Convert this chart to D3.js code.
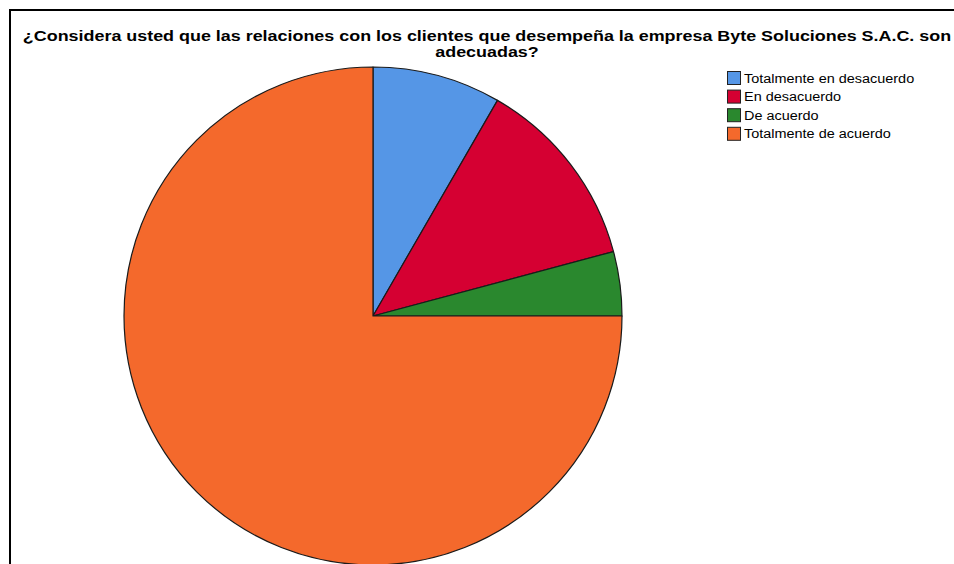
<!DOCTYPE html>
<html>
<head>
<meta charset="utf-8">
<script src="https://cdn.jsdelivr.net/npm/d3@7"></script>
<style>
  html, body { margin: 0; padding: 0; background: #fff; }
  svg { display: block; }
</style>
</head>
<body>
<svg id="chart" width="954" height="564"></svg>
<script>
// Responses to the survey question (counts per answer)
const categories = ["Totalmente en desacuerdo", "En desacuerdo", "De acuerdo", "Totalmente de acuerdo"];
const counts = [2, 3, 1, 18];
const colors = ["#5596E6", "#D50032", "#2A882E", "#F4692C"];
const titleLines = [
  "¿Considera usted que las relaciones con los clientes que desempeña la empresa Byte Soluciones S.A.C. son",
  "adecuadas?"
];

const svg = d3.select("#chart");
const W = 954, H = 564;
const FONT = "Liberation Sans, Arial, sans-serif";
const STRETCH = 1.155; // wide-set text, as in the original export

// widen a text node horizontally by a fixed factor
function widen(sel) {
  sel.each(function () {
    const len = this.getComputedTextLength();
    d3.select(this)
      .attr("textLength", len * STRETCH)
      .attr("lengthAdjust", "spacingAndGlyphs");
  });
}

// Outer frame (runs off the right and bottom edges)
svg.append("path")
  .attr("d", `M10,${H + 5} L10,10 L${W + 5},10`)
  .attr("fill", "none")
  .attr("stroke", "#000")
  .attr("stroke-width", 2);

// Title
const title = svg.append("text")
  .attr("text-anchor", "middle")
  .attr("font-family", FONT)
  .attr("font-weight", "bold")
  .attr("font-size", 15.5)
  .attr("fill", "#000");
titleLines.forEach((t, i) => {
  title.append("tspan").attr("x", 487).attr("y", 41 + i * 16).text(t);
});
title.selectAll("tspan").each(function () {
  const len = this.getComputedTextLength();
  d3.select(this).attr("textLength", len * STRETCH).attr("lengthAdjust", "spacingAndGlyphs");
});

// Pie
const cx = 373, cy = 316, r = 249;
const color = d3.scaleOrdinal().domain(categories).range(colors);
const pie = d3.pie().sort(null).value(d => d.value);
const arc = d3.arc().innerRadius(0).outerRadius(r);
const data = categories.map((c, i) => ({ key: c, value: counts[i] }));

svg.append("g")
  .attr("transform", `translate(${cx},${cy})`)
  .selectAll("path")
  .data(pie(data))
  .join("path")
  .attr("d", arc)
  .attr("fill", d => color(d.data.key))
  .attr("stroke", "#1a1a1a")
  .attr("stroke-width", 1.2)
  .attr("stroke-linejoin", "round");

// Legend
const legend = svg.append("g").attr("transform", "translate(727,71)");
const rows = legend.selectAll("g")
  .data(categories)
  .join("g")
  .attr("transform", (d, i) => `translate(0,${i * 18.6})`);
rows.append("rect")
  .attr("x", 0.5).attr("y", 0.5)
  .attr("width", 13).attr("height", 13)
  .attr("fill", d => color(d))
  .attr("stroke", "#222")
  .attr("stroke-width", 1);
rows.append("text")
  .attr("x", 17)
  .attr("y", 11.5)
  .attr("font-family", FONT)
  .attr("font-size", 12.5)
  .attr("fill", "#000")
  .text(d => d)
  .call(widen);
</script>
</body>
</html>
